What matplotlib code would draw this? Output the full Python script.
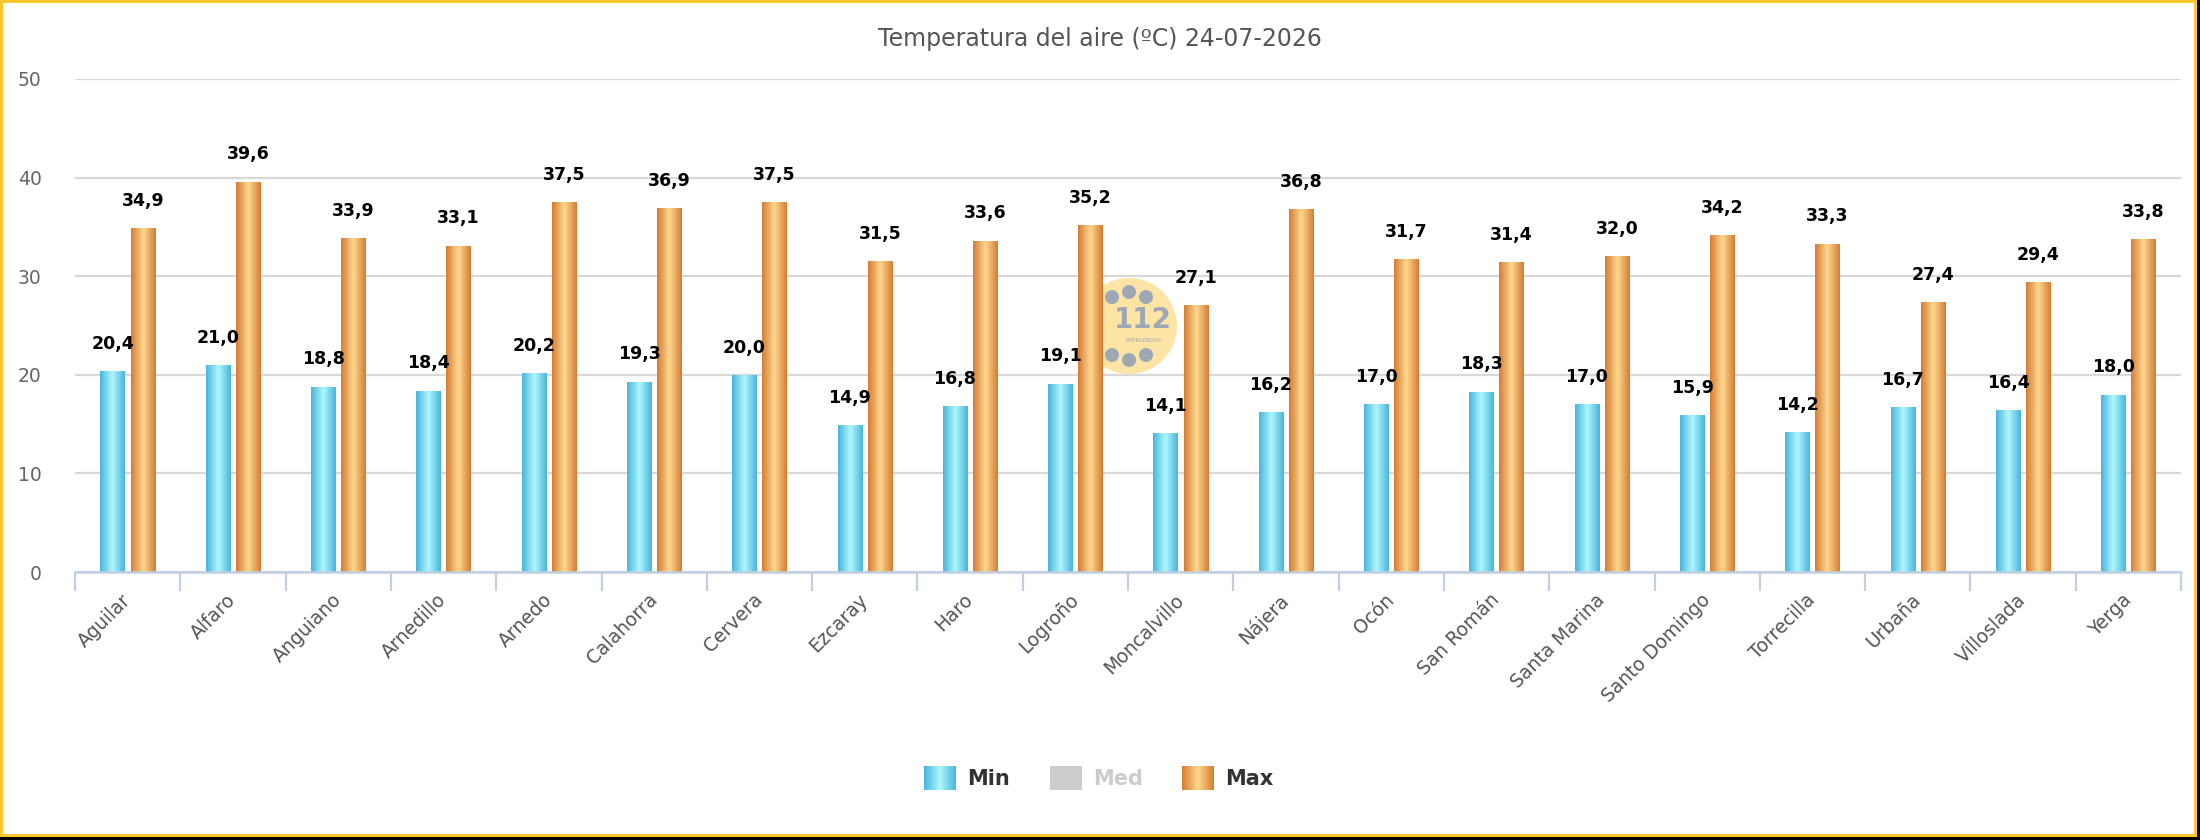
import numpy as np
import matplotlib
matplotlib.use("Agg")
import matplotlib.pyplot as plt
from matplotlib.colors import LinearSegmentedColormap
from matplotlib.patches import Rectangle, Ellipse

# Data
stations = ['Aguilar', 'Alfaro', 'Anguiano', 'Arnedillo', 'Arnedo', 'Calahorra',
            'Cervera', 'Ezcaray', 'Haro', 'Logroño', 'Moncalvillo', 'Nájera',
            'Ocón', 'San Román', 'Santa Marina', 'Santo Domingo', 'Torrecilla',
            'Urbaña', 'Villoslada', 'Yerga']
t_min = [20.4, 21.0, 18.8, 18.4, 20.2, 19.3, 20.0, 14.9, 16.8, 19.1,
         14.1, 16.2, 17.0, 18.3, 17.0, 15.9, 14.2, 16.7, 16.4, 18.0]
t_max = [34.9, 39.6, 33.9, 33.1, 37.5, 36.9, 37.5, 31.5, 33.6, 35.2,
         27.1, 36.8, 31.7, 31.4, 32.0, 34.2, 33.3, 27.4, 29.4, 33.8]
y_ticks = [0, 10, 20, 30, 40, 50]
title = 'Temperatura del aire (ºC) 24-07-2026'

plt.rcParams['font.family'] = ['DejaVu Sans']

W, H = 2200, 840
fig = plt.figure(figsize=(22, 8.4), dpi=100)
fig.patch.set_facecolor('white')

ax_l, ax_r, ax_t, ax_b = 75, 2181, 79, 572
ax = fig.add_axes([ax_l / W, 1 - ax_b / H, (ax_r - ax_l) / W, (ax_b - ax_t) / H])
ax.set_facecolor('white')

cmap_min = LinearSegmentedColormap.from_list('cmin', ['#4ab5dc', '#aef7fd', '#4ab5dc'])
cmap_max = LinearSegmentedColormap.from_list('cmax', ['#d67c35', '#fdd88d', '#d67c35'])
grad = np.linspace(0, 1, 64).reshape(1, -1)

x = np.arange(len(stations))
width = 0.23
offset = 0.143


def gradient_bars(xpos, values, cmap):
    bars = ax.bar(xpos, values, width, color='none', edgecolor='none', zorder=2)
    for b in bars:
        x0, w, h = b.get_x(), b.get_width(), b.get_height()
        im = ax.imshow(grad, cmap=cmap, aspect='auto', extent=(x0, x0 + w, 0, h),
                       zorder=2, interpolation='bilinear')
        im.set_clip_path(b)
    return bars


gradient_bars(x - offset, t_min, cmap_min)
gradient_bars(x + offset, t_max, cmap_max)

for xs, vals in [(x - offset, t_min), (x + offset, t_max)]:
    for xi, v in zip(xs, vals):
        ax.annotate(f'{v:.1f}'.replace('.', ','), (xi, v), xytext=(0, 16),
                    textcoords='offset points', ha='center', va='baseline',
                    fontsize=12.5, fontweight='bold', color='black', zorder=3)

# 112 watermark behind the bars
axw, axh = ax_r - ax_l, ax_b - ax_t
cx, cy, r = 1129, 326, 48
fx, fy = (cx - ax_l) / axw, (ax_b - cy) / axh
ax.add_patch(Ellipse((fx, fy), 2 * r / axw, 2 * r / axh, transform=ax.transAxes,
                     facecolor='#fbe4a4', edgecolor='none', zorder=1))
for dx, dy in [(-17, -29), (0, -34), (17, -29), (-17, 29), (0, 34), (17, 29)]:
    ax.add_patch(Ellipse(((cx + dx - ax_l) / axw, (ax_b - cy - dy) / axh),
                         14 / axw, 14 / axh, transform=ax.transAxes,
                         facecolor='#9ea8b4', edgecolor='none', zorder=1))
ax.text((1143 - ax_l) / axw, (ax_b - 320) / axh, '112', transform=ax.transAxes,
        ha='center', va='center', fontsize=20, fontweight='bold', color='#9ea8b4', zorder=1)
ax.text((1143 - ax_l) / axw, (ax_b - 340) / axh, 'EMERGENCIAS', transform=ax.transAxes,
        ha='center', va='center', fontsize=3.5, color='#9ea8b4', zorder=1)

ax.set_xlim(-0.5, len(stations) - 0.5)
ax.set_ylim(0, 50)
ax.set_yticks(y_ticks)
ax.set_yticklabels([str(t) for t in y_ticks], fontsize=13.5, color='#666666')
ax.tick_params(axis='y', length=0, pad=24)
ax.grid(axis='y', color='#d8d8d8', linewidth=1.6, zorder=0)
ax.set_axisbelow(True)

ax.set_xticks(x)
ax.set_xticklabels(stations, rotation=45, ha='right', va='center',
                   rotation_mode='anchor', fontsize=13.5, color='#555555')
ax.tick_params(axis='x', which='major', length=0, pad=18)
ax.set_xticks(np.arange(-0.5, len(stations)), minor=True)
ax.tick_params(axis='x', which='minor', length=14, width=1.6, color='#c0d0e0')

for s in ['top', 'right', 'left']:
    ax.spines[s].set_visible(False)
ax.spines['bottom'].set_color('#c0d0e0')
ax.spines['bottom'].set_linewidth(1.8)

fig.text(1100 / W, 1 - 39 / H, title, ha='center', va='center',
         fontsize=17, color='#555555')

# legend drawn by hand so the swatches can carry the gradients
leg_items = [('Min', cmap_min, 924, '#333333'), ('Med', None, 1050, '#cccccc'),
             ('Max', cmap_max, 1182, '#333333')]
for name, cmap, px, tcol in leg_items:
    sax = fig.add_axes([px / W, 1 - 790 / H, 32 / W, 24 / H])
    if cmap is None:
        sax.imshow([[0]], cmap=LinearSegmentedColormap.from_list('g', ['#cccccc', '#cccccc']),
                   aspect='auto')
    else:
        sax.imshow(grad, cmap=cmap, aspect='auto', interpolation='bilinear')
    sax.axis('off')
    fig.text((px + 43) / W, 1 - 779 / H, name, ha='left', va='center',
             fontsize=15, fontweight='bold', color=tcol)


# frame around the picture
def frame(x0, y0, w, h, col):
    fig.add_artist(Rectangle((x0 / W, 1 - (y0 + h) / H), w / W, h / H,
                             transform=fig.transFigure, facecolor=col,
                             edgecolor='none', zorder=10))


yel = '#ffc72c'
frame(0, 0, W, 3, yel)
frame(0, 0, 3, H, yel)
frame(2194, 0, 3, H - 3, yel)
frame(0, 834, W - 3, 3, yel)
frame(2197, 0, 3, H, '#000000')
frame(0, 837, W, 3, '#000000')

fig.savefig('out.png', dpi=100)
plt.close(fig)
